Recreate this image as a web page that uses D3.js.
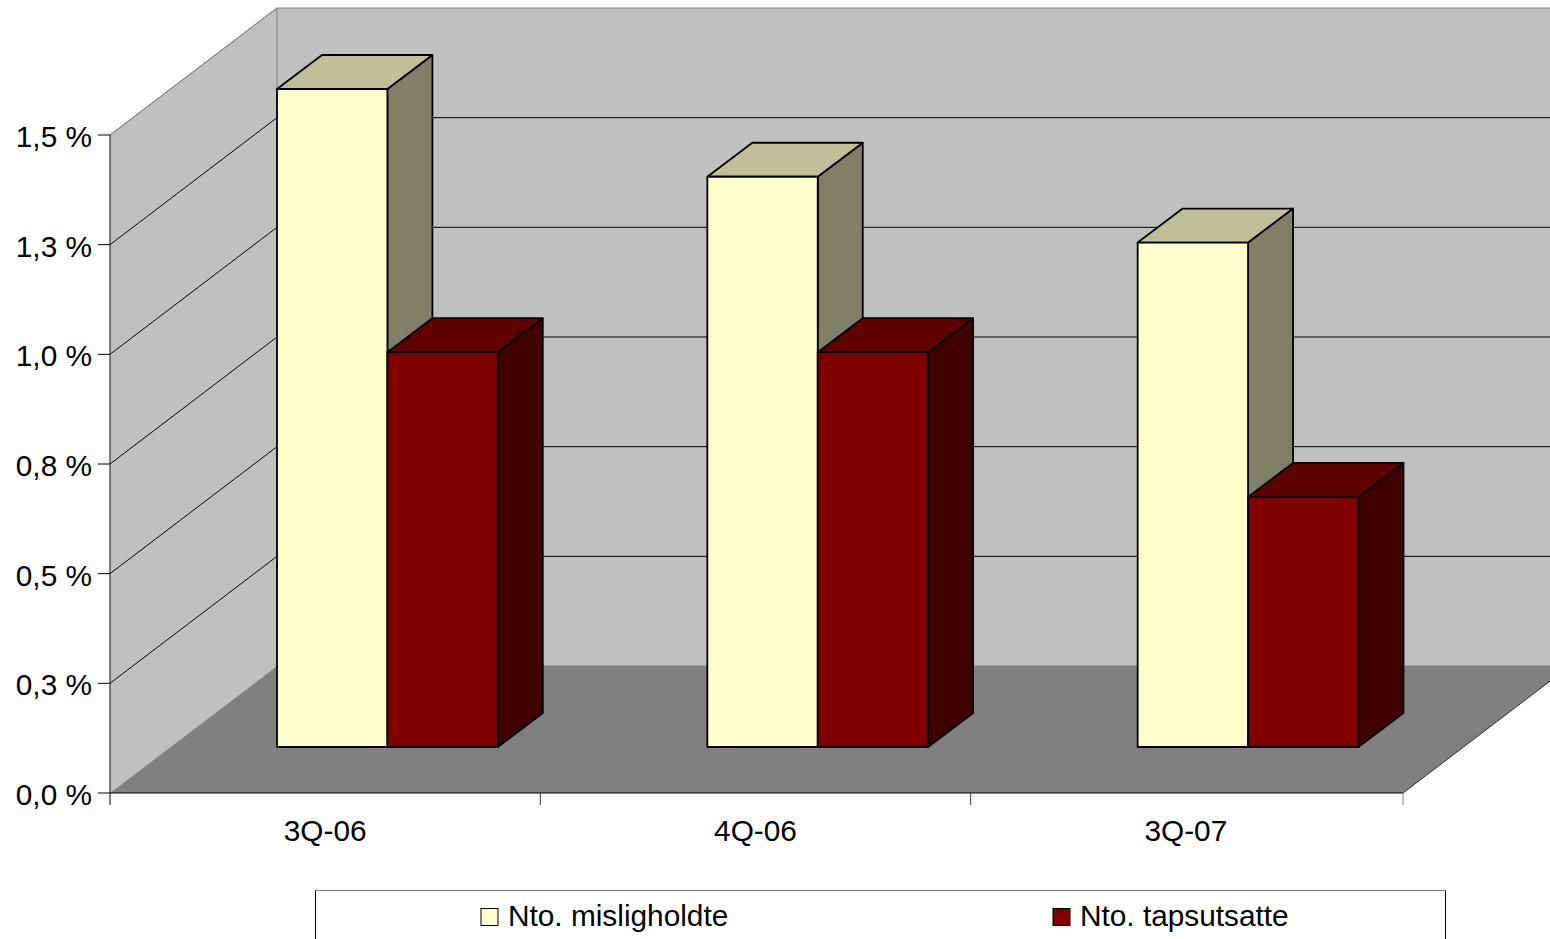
<!DOCTYPE html>
<html lang="en">
<head>
    <meta charset="UTF-8">
    <title>Nto. misligholdte / tapsutsatte</title>
    <script src="https://cdn.jsdelivr.net/npm/d3@7"></script>
    <style>
        html, body {
            margin: 0;
            background: #fff;
            overflow: hidden;
        }
        svg {
            display: block;
        }
        text {
            font-family: "Liberation Sans", Arial, sans-serif;
            font-size: 29.8px;
            fill: #000;
        }
    </style>
</head>
<body>
    <svg></svg>
    <script>
        const categories = ["3Q-06", "4Q-06", "3Q-07"];
        const misligholdte = [1.5, 1.3, 1.15];
        const tapsutsatte = [0.9, 0.9, 0.57];
        const seriesNames = ["Nto. misligholdte", "Nto. tapsutsatte"];
        const yTicks = [0, 0.25, 0.5, 0.75, 1, 1.25, 1.5];
        const yTickLabels = ["0,0 %", "0,3 %", "0,5 %", "0,8 %", "1,0 %", "1,3 %", "1,5 %"];

        const width = 1550, height = 939;
        const plotLeft = 110, plotRight = 1403, plotBottom = 793, plotTop = 135;
        // oblique offset of the back wall, and of the bars' front face
        const wallDx = 167, wallDy = -127;
        const barInset = 167, barLift = 46, barWidth = 110.4;
        const depthDx = 45, depthDy = -34;

        const colors = [
            { front: "#ffffcc", top: "#bfbf99", side: "#808066" },
            { front: "#800000", top: "#600000", side: "#400000" }
        ];

        const svg = d3.select("svg").attr("width", width).attr("height", height);

        const x = d3.scaleBand().domain(categories).range([plotLeft, plotRight - 2]);
        const y = d3.scaleLinear().domain([0, 1.5]).range([plotBottom, plotTop]);

        const poly = pts => pts.map(p => p.join(",")).join(" ");

        // walls and floor
        svg.append("polygon")
            .attr("points", poly([[plotLeft, plotBottom], [plotLeft, plotTop], [plotLeft + wallDx, plotTop + wallDy], [plotLeft + wallDx, plotBottom + wallDy]]))
            .attr("fill", "#c0c0c0");
        svg.append("polygon")
            .attr("points", poly([[plotLeft + wallDx, plotTop + wallDy], [plotRight + wallDx, plotTop + wallDy], [plotRight + wallDx, plotBottom + wallDy], [plotLeft + wallDx, plotBottom + wallDy]]))
            .attr("fill", "#c0c0c0");
        svg.append("polygon")
            .attr("points", poly([[plotLeft, plotBottom], [plotRight, plotBottom], [plotRight + wallDx, plotBottom + wallDy], [plotLeft + wallDx, plotBottom + wallDy]]))
            .attr("fill", "#808080");

        // gridlines run along the side wall and then across the back wall
        svg.append("g").selectAll("polyline")
            .data(yTicks.slice(1))
            .enter().append("polyline")
            .attr("points", d => poly([[plotLeft, y(d)], [plotLeft + wallDx, y(d) + wallDy], [plotRight + wallDx, y(d) + wallDy]]))
            .attr("fill", "none")
            .attr("stroke", d => d === 1.5 ? "#808080" : "#000")
            .attr("stroke-width", 1);

        svg.append("polyline")
            .attr("points", poly([[plotLeft, plotTop], [plotLeft + wallDx, plotTop + wallDy], [plotLeft + wallDx, plotBottom + wallDy]]))
            .attr("fill", "none")
            .attr("stroke", "#808080");
        svg.append("line")
            .attr("x1", plotLeft + wallDx).attr("x2", plotRight + wallDx)
            .attr("y1", plotBottom + wallDy).attr("y2", plotBottom + wallDy)
            .attr("stroke", "#808080");
        svg.append("line")
            .attr("x1", plotRight).attr("x2", plotRight + wallDx)
            .attr("y1", plotBottom).attr("y2", plotBottom + wallDy)
            .attr("stroke", "#333");

        // bars
        function drawBar(g, xPos, value, c) {
            const x0 = xPos, x1 = xPos + barWidth;
            const yTop = y(value) - barLift, yBase = plotBottom - barLift;
            const g2 = g.append("g").attr("stroke", "#000").attr("stroke-width", 1.8).attr("stroke-linejoin", "round");
            g2.append("polygon")
                .attr("points", poly([[x1, yBase], [x1, yTop], [x1 + depthDx, yTop + depthDy], [x1 + depthDx, yBase + depthDy]]))
                .attr("fill", c.side);
            g2.append("polygon")
                .attr("points", poly([[x0, yTop], [x1, yTop], [x1 + depthDx, yTop + depthDy], [x0 + depthDx, yTop + depthDy]]))
                .attr("fill", c.top);
            g2.append("rect")
                .attr("x", x0).attr("y", yTop)
                .attr("width", barWidth).attr("height", yBase - yTop)
                .attr("fill", c.front);
        }

        const bars = svg.append("g");
        categories.forEach((cat, i) => {
            const x0 = x(cat) + barInset;
            drawBar(bars, x0, misligholdte[i], colors[0]);
            drawBar(bars, x0 + barWidth, tapsutsatte[i], colors[1]);
        });

        // axes
        const axisStroke = "#333";
        svg.append("line")
            .attr("x1", plotLeft).attr("x2", plotLeft).attr("y1", plotTop).attr("y2", plotBottom + 12)
            .attr("stroke", axisStroke).attr("stroke-width", 1.2);
        svg.append("line")
            .attr("x1", plotLeft).attr("x2", plotRight).attr("y1", plotBottom).attr("y2", plotBottom)
            .attr("stroke", "#000").attr("stroke-width", 1.2);

        svg.append("g").selectAll("line")
            .data(yTicks)
            .enter().append("line")
            .attr("x1", plotLeft - 12).attr("x2", plotLeft)
            .attr("y1", d => y(d)).attr("y2", d => y(d))
            .attr("stroke", "#000");

        svg.append("g").selectAll("text")
            .data(yTicks)
            .enter().append("text")
            .attr("x", 92)
            .attr("y", d => y(d) + 12)
            .attr("text-anchor", "end")
            .text((d, i) => yTickLabels[i]);

        svg.append("g").selectAll("line")
            .data(categories.map((c, i) => i === 2 ? plotRight : x(c) + x.bandwidth()))
            .enter().append("line")
            .attr("x1", d => d).attr("x2", d => d)
            .attr("y1", plotBottom).attr("y2", plotBottom + 12)
            .attr("stroke", (d, i) => i === 2 ? "#808080" : "#333");

        svg.append("g").selectAll("text")
            .data(categories)
            .enter().append("text")
            .attr("x", d => x(d) + x.bandwidth() / 2)
            .attr("y", 841)
            .attr("text-anchor", "middle")
            .text(d => d);

        // legend, cut off by the bottom of the page as in the original
        svg.append("rect")
            .attr("x", 315.5).attr("y", 890.5)
            .attr("width", 1130).attr("height", 80)
            .attr("fill", "#fff")
            .attr("stroke", "#000");
        svg.append("line")
            .attr("x1", 315.5).attr("x2", 1445.5).attr("y1", 890.5).attr("y2", 890.5)
            .attr("stroke", "#808080");

        const legendX = [481, 1053];
        seriesNames.forEach((name, i) => {
            svg.append("rect")
                .attr("x", legendX[i]).attr("y", 908.5)
                .attr("width", 17).attr("height", 17)
                .attr("fill", colors[i].front)
                .attr("stroke", "#000").attr("stroke-width", 1);
            svg.append("text")
                .attr("x", legendX[i] + 27)
                .attr("y", 926)
                .text(name);
        });
    </script>
</body>
</html>
